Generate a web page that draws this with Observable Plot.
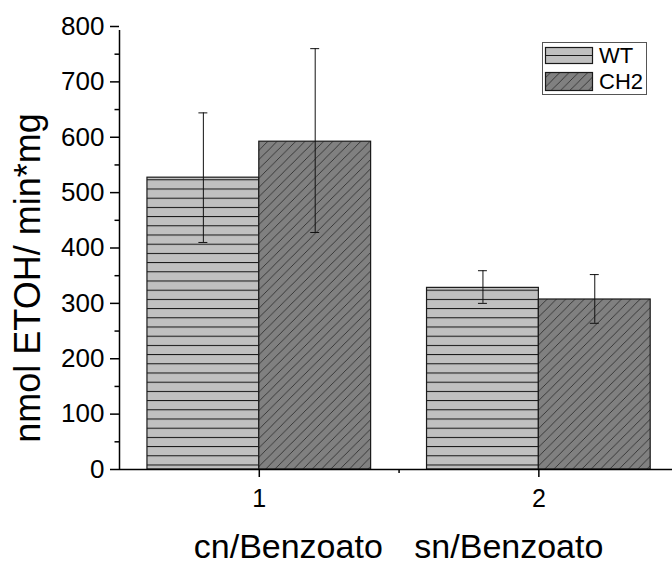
<!DOCTYPE html>
<html>
<head>
<meta charset="utf-8">
<script src="https://cdn.jsdelivr.net/npm/d3@7"></script>
<script src="https://cdn.jsdelivr.net/npm/@observablehq/plot@0.6"></script>
<style>
  html, body { margin: 0; padding: 0; background: #fff; overflow: hidden; }
  #chart svg { display: block; }
</style>
</head>
<body>
<div id="chart"></div>
<script>
// ---- data ----
const groups = [1, 2];
const categoryLabels = ["cn/Benzoato", "sn/Benzoato"];
const series = ["WT", "CH2"];
const wtMean = [527, 328];
const wtLow = [410, 300];
const wtHigh = [644, 359];
const ch2Mean = [592, 307];
const ch2Low = [428, 264];
const ch2High = [760, 352];
const yMajorTicks = [0, 100, 200, 300, 400, 500, 600, 700, 800];
const yMinorTicks = [50, 150, 250, 350, 450, 550, 650, 750];
const xMajorTicks = [1, 2];
const xMinorTicks = [1.5];
const yLabel = "nmol ETOH/ min*mg";

// ---- table ----
const rows = [];
groups.forEach((g, i) => {
  rows.push({group: g, series: "WT", mean: wtMean[i], low: wtLow[i], high: wtHigh[i]});
  rows.push({group: g, series: "CH2", mean: ch2Mean[i], low: ch2Low[i], high: ch2High[i]});
});
const labelRows = groups.map((g, i) => ({group: g, label: categoryLabels[i]}));

const barW = 0.4;
const capHalf = 0.016;
const fills = {WT: "url(#pat-wt)", CH2: "url(#pat-ch2)"};
const font = "'Liberation Sans', Arial, sans-serif";

function defsAndLegend() {
  const g = d3.create("svg:g");
  const defs = g.append("defs");
  const pw = defs.append("pattern").attr("id", "pat-wt").attr("patternUnits", "userSpaceOnUse")
    .attr("width", 10).attr("height", 9.2).attr("y", 464.5);
  pw.append("rect").attr("width", 10).attr("height", 9.2).attr("fill", "#c0c0c0");
  pw.append("line").attr("x1", 0).attr("x2", 10).attr("y1", 0.5).attr("y2", 0.5)
    .attr("stroke", "#111").attr("stroke-width", 1);
  const pc = defs.append("pattern").attr("id", "pat-ch2").attr("patternUnits", "userSpaceOnUse")
    .attr("width", 9.3).attr("height", 9.3);
  pc.append("rect").attr("width", 9.3).attr("height", 9.3).attr("fill", "#808080");
  pc.append("path").attr("d", "M0,9.3L9.3,0M-1,1L1,-1M8.3,10.3L10.3,8.3")
    .attr("stroke", "#1a1a1a").attr("stroke-width", 0.7);

  // legend
  const lg = g.append("g");
  lg.append("rect").attr("x", 542.5).attr("y", 42.5).attr("width", 104).attr("height", 52)
    .attr("fill", "#fff").attr("stroke", "#555").attr("stroke-width", 1);
  series.forEach((s, i) => {
    const y0 = i === 0 ? 47.5 : 72.5;
    const h = i === 0 ? 16 : 18;
    lg.append("rect").attr("x", 545.5).attr("y", y0).attr("width", 47).attr("height", h)
      .attr("fill", s === "WT" ? "#c0c0c0" : fills[s]).attr("stroke", "#1a1a1a").attr("stroke-width", 1.2);
    if (s === "WT") {
      lg.append("line").attr("x1", 545.5).attr("x2", 592.5).attr("y1", y0 + h / 2).attr("y2", y0 + h / 2)
        .attr("stroke", "#1a1a1a").attr("stroke-width", 1);
    }
    lg.append("text").attr("x", 599).attr("y", i === 0 ? 63 : 89)
      .attr("style", `text-anchor:start;font-size:22px;font-family:${font};fill:#000`).text(s);
  });
  return g.node();
}

const catMark = (i, dx) => Plot.text([labelRows[i]], {x: "group", y: 0, text: "label", dx, dy: 88,
  fontSize: 34, lineAnchor: "bottom", fill: "#000"});

const chart = Plot.plot({
  width: 672,
  height: 565,
  marginTop: 26,
  marginBottom: 96,
  marginLeft: 119,
  marginRight: 0,
  style: {fontFamily: font, background: "#fff", color: "#000"},
  x: {domain: [0.5, 2.478], axis: null},
  y: {domain: [0, 800], axis: null},
  marks: [
    defsAndLegend,
    Plot.rectY(rows, {
      x1: d => d.series === "WT" ? d.group - barW : d.group,
      x2: d => d.series === "WT" ? d.group : d.group + barW,
      y1: 0,
      y2: "mean",
      fill: d => fills[d.series],
      stroke: "#1a1a1a",
      strokeWidth: 1.2
    }),
    Plot.ruleX(rows, {
      x: d => d.group + (d.series === "WT" ? -barW / 2 : barW / 2),
      y1: "low", y2: "high", stroke: "#111", strokeWidth: 1
    }),
    Plot.ruleY(rows, {
      x1: d => d.group + (d.series === "WT" ? -barW / 2 : barW / 2) - capHalf,
      x2: d => d.group + (d.series === "WT" ? -barW / 2 : barW / 2) + capHalf,
      y: "low", stroke: "#111", strokeWidth: 1
    }),
    Plot.ruleY(rows, {
      x1: d => d.group + (d.series === "WT" ? -barW / 2 : barW / 2) - capHalf,
      x2: d => d.group + (d.series === "WT" ? -barW / 2 : barW / 2) + capHalf,
      y: "high", stroke: "#111", strokeWidth: 1
    }),
    // axes
    Plot.axisY({ticks: yMajorTicks, tickSize: 9, tickPadding: 6, fontSize: 26, label: null, strokeWidth: 1.5, tickFormat: d => String(d)}),
    Plot.axisY({ticks: yMinorTicks, tickSize: 4.5, label: null, strokeWidth: 1.5, tickFormat: () => ""}),
    Plot.axisX({ticks: xMajorTicks, tickSize: 8, tickPadding: 12, fontSize: 25, label: null, strokeWidth: 1.5, tickFormat: d => String(d)}),
    Plot.axisX({ticks: xMinorTicks, tickSize: 4, label: null, strokeWidth: 1.5, tickFormat: () => ""}),
    Plot.ruleX([0.5], {y1: 0, y2: 800, insetBottom: -4, strokeWidth: 1.5, stroke: "#000"}),
    Plot.ruleY([0], {strokeWidth: 1.5, stroke: "#000"}),
    // y label
    Plot.text([yLabel], {frameAnchor: "left", text: d => d, rotate: -90, dx: -91, dy: 30,
      fontSize: 36, lineAnchor: "middle", textAnchor: "middle", fill: "#000"}),
    // category labels
    catMark(0, 29),
    catMark(1, -30),
  ]
});
document.getElementById("chart").appendChild(chart);
</script>
</body>
</html>
